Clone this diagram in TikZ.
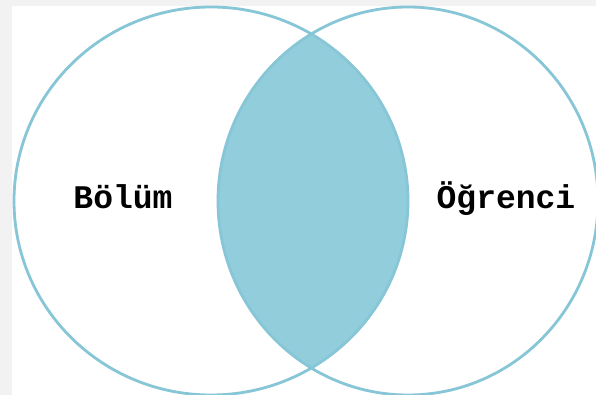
\documentclass[tikz,border=0pt]{standalone}
\usepackage{fontspec}
\newfontfamily\labelfont{Liberation Mono}
\definecolor{bggrey}{HTML}{F2F2F2}
\definecolor{ringblue}{HTML}{86C6D7}
\definecolor{lensblue}{HTML}{92CDDC}
\begin{document}
\begin{tikzpicture}[x=1pt,y=-1pt,
  ring/.style={draw=ringblue,line width=2.8pt},
  setlabel/.style={font=\labelfont\bfseries\fontsize{33}{33}\selectfont,text=black,inner sep=0pt,anchor=base}]
\useasboundingbox (0,0) rectangle (596,395);
\fill[bggrey] (0,0) rectangle (596,395);
\fill[white] (12,6) rectangle (596,395);
\begin{scope}
  \clip (211,201) ellipse [x radius=197, y radius=194];
  \fill[lensblue] (408,201) ellipse [x radius=190, y radius=194];
\end{scope}
\begin{scope}
  \clip (12,6) rectangle (596,395);
  \draw[ring] (211,201) ellipse [x radius=197, y radius=194];
  \draw[ring] (408,201) ellipse [x radius=190, y radius=194];
\end{scope}
\node[setlabel] (bolum) at (123,208) {Bölüm};
\node[setlabel] (ogrenci) at (506,208) {Öğrenci};
\end{tikzpicture}
\end{document}
